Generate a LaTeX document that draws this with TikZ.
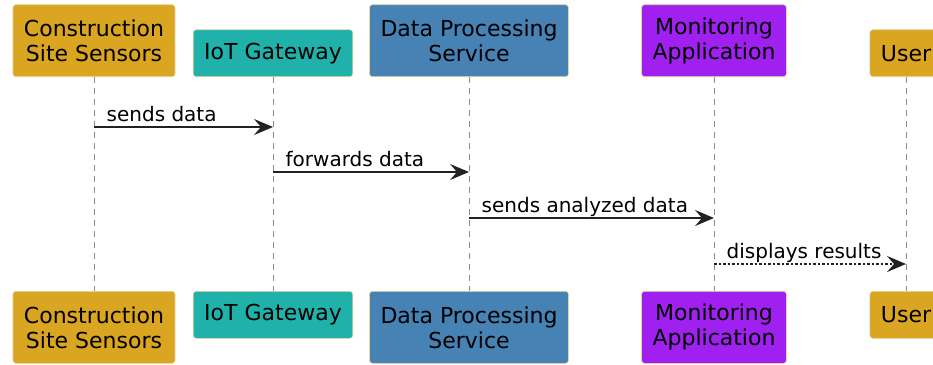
\documentclass[tikz,border=0pt]{standalone}
\usepackage{fontspec}
\setmainfont{DejaVu Sans}
\usetikzlibrary{arrows.meta}
\definecolor{sensorgold}{HTML}{DAA520}
\definecolor{gatewayteal}{HTML}{20B2AA}
\definecolor{serviceblue}{HTML}{4682B4}
\definecolor{monitorpurple}{HTML}{A020F0}
\definecolor{boxline}{HTML}{E6D3A0}
\definecolor{lifegray}{HTML}{8A8A8A}
\definecolor{msgblack}{HTML}{222222}
\tikzset{
  actor/.style={draw=boxline, line width=0.6pt, rounded corners=3pt, align=center,
    inner xsep=11pt, inner ysep=0pt, font=\fontsize{22}{25}\selectfont},
  oneline/.style={minimum height=47pt},
  twoline/.style={minimum height=72pt},
  lifeline/.style={draw=lifegray, line width=0.9pt, dash pattern=on 6pt off 5pt},
  msg/.style={->, draw=msgblack, line width=1.3pt},
  replymsg/.style={msg, dash pattern=on 2.5pt off 2pt},
  msglabel/.style={at start, anchor=base west, inner sep=0pt, xshift=12pt, yshift=6pt,
    text=black, font=\fontsize{20}{23}\selectfont},
}

\begin{document}
\begin{tikzpicture}[x=1pt, y=-1pt, >={Stealth[length=19pt, width=16pt, inset=7pt]}]
    \useasboundingbox (0,0) rectangle (933,364);

    % Participants, top row
    \node[actor, twoline, fill=sensorgold, anchor=south] (sensTop) at (94,77) {Construction\\Site Sensors};
    \node[actor, oneline, fill=gatewayteal, anchor=south] (gateTop) at (273,77) {IoT Gateway};
    \node[actor, twoline, fill=serviceblue, anchor=south] (procTop) at (469,77) {Data Processing\\Service};
    \node[actor, twoline, fill=monitorpurple, anchor=south] (monTop) at (714,77) {Monitoring\\Application};
    \node[actor, oneline, fill=sensorgold, anchor=south] (userTop) at (906,77) {User};

    % Participants, bottom row
    \node[actor, twoline, fill=sensorgold, anchor=north] (sensBot) at (94,291) {Construction\\Site Sensors};
    \node[actor, oneline, fill=gatewayteal, anchor=north] (gateBot) at (273,291) {IoT Gateway};
    \node[actor, twoline, fill=serviceblue, anchor=north] (procBot) at (469,291) {Data Processing\\Service};
    \node[actor, twoline, fill=monitorpurple, anchor=north] (monBot) at (714,291) {Monitoring\\Application};
    \node[actor, oneline, fill=sensorgold, anchor=north] (userBot) at (906,291) {User};

    % Lifelines
    \draw[lifeline] (sensTop) -- (sensBot);
    \draw[lifeline] (gateTop) -- (gateBot);
    \draw[lifeline] (procTop) -- (procBot);
    \draw[lifeline] (monTop) -- (monBot);
    \draw[lifeline] (userTop) -- (userBot);

    % Messages
    \draw[msg] (sensTop |- 0,127) -- (gateTop |- 0,127) node[msglabel] (lblSend) {sends data};
    \draw[msg] (gateTop |- 0,172) -- (procTop |- 0,172) node[msglabel] (lblFwd) {forwards data};
    \draw[msg] (procTop |- 0,218) -- (monTop |- 0,218) node[msglabel] (lblAnalyzed) {sends analyzed data};
    \draw[replymsg] (monTop |- 0,264) -- (userTop |- 0,264) node[msglabel] (lblResults) {displays results};

\end{tikzpicture}
\end{document}
